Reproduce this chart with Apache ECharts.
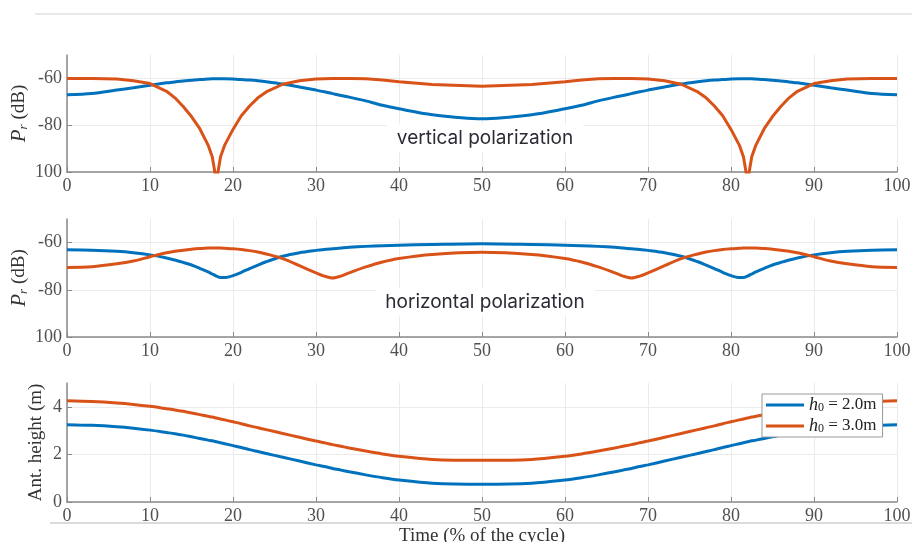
<html>
<head>
<meta charset="UTF-8">
<title>received power</title>
<script src="https://cdn.jsdelivr.net/npm/echarts@6/dist/echarts.min.js"></script>
<style>html,body{margin:0;padding:0;background:#fff}</style>
</head>
<body>
<div id="chart" style="width:912px;height:542px"></div>
<script>
// time (% of the cycle), dense around the nulls
var time = [0,3,6,8,10,12,13,14,15,16,17,17.5,18,18.5,19,20,21,22,23,24,26,28,30,31,32,33,34,36,38,40,44,
  50,
  56,60,62,64,66,67,68,69,70,72,74,76,77,78,79,80,81,81.5,82,82.5,83,84,85,86,87,88,90,92,94,97,100];

// vertical polarization, Pr (dB)
var vertBlue = [-67.0,-66.5,-65.0,-64.0,-62.9,-61.9,-61.5,-61.1,-60.8,-60.5,-60.3,-60.2,-60.2,-60.2,-60.2,-60.3,-60.5,-60.7,-61.0,-61.4,-62.4,-63.7,-65.0,-65.7,-66.5,-67.3,-68.0,-69.6,-71.5,-73.0,-75.5,
  -77.2,
  -75.5,-73.0,-71.5,-69.6,-68.0,-67.3,-66.5,-65.7,-65.0,-63.7,-62.4,-61.4,-61.0,-60.7,-60.5,-60.3,-60.2,-60.2,-60.2,-60.2,-60.3,-60.5,-60.8,-61.1,-61.5,-61.9,-62.9,-64.0,-65.0,-66.5,-67.0];
var vertOrange = [-60.0,-60.0,-60.3,-61.0,-62.2,-65.5,-68.3,-72.0,-76.3,-81.5,-88.5,-93.5,-104,-93.5,-88.5,-81.8,-76.0,-71.8,-68.3,-65.8,-62.5,-61.0,-60.3,-60.1,-60.0,-60.0,-60.0,-60.2,-60.7,-61.4,-62.6,
  -63.4,
  -62.6,-61.4,-60.7,-60.2,-60.0,-60.0,-60.0,-60.1,-60.3,-61.0,-62.5,-65.8,-68.3,-71.8,-76.0,-81.8,-88.5,-93.5,-104,-93.5,-88.5,-81.5,-76.3,-72.0,-68.3,-65.5,-62.2,-61.0,-60.3,-60.0,-60.0];

// horizontal polarization, Pr (dB)
var horBlue = [-63.0,-63.2,-63.7,-64.3,-65.2,-66.5,-67.4,-68.4,-69.5,-70.9,-72.4,-73.3,-74.2,-74.8,-74.8,-74.0,-72.6,-71.0,-69.5,-68.1,-65.8,-64.3,-63.3,-62.9,-62.6,-62.3,-62.0,-61.6,-61.3,-61.1,-60.8,
  -60.5,
  -60.8,-61.1,-61.3,-61.6,-62.0,-62.3,-62.6,-62.9,-63.3,-64.3,-65.8,-68.1,-69.5,-71.0,-72.6,-74.0,-74.8,-74.8,-74.2,-73.3,-72.4,-70.9,-69.5,-68.4,-67.4,-66.5,-65.2,-64.3,-63.7,-63.2,-63.0];
var horOrange = [-70.5,-70.2,-69.0,-67.8,-66.0,-64.3,-63.7,-63.2,-62.8,-62.5,-62.3,-62.3,-62.3,-62.3,-62.4,-62.6,-62.9,-63.4,-64.0,-64.8,-66.8,-69.8,-72.8,-74.2,-75.0,-74.2,-72.8,-70.3,-68.2,-66.7,-65.0,
  -64.1,
  -65.0,-66.7,-68.2,-70.3,-72.8,-74.2,-75.0,-74.2,-72.8,-69.8,-66.8,-64.8,-64.0,-63.4,-62.9,-62.6,-62.4,-62.3,-62.3,-62.3,-62.3,-62.5,-62.8,-63.2,-63.7,-64.3,-66.0,-67.8,-69.0,-70.2,-70.5];

// antenna height (m)
var heightBlue = [3.25,3.22,3.16,3.10,3.02,2.92,2.87,2.81,2.74,2.67,2.60,2.57,2.53,2.49,2.45,2.37,2.29,2.20,2.12,2.04,1.88,1.72,1.56,1.49,1.41,1.34,1.27,1.14,1.02,0.92,0.79,
  0.75,
  0.79,0.92,1.02,1.14,1.27,1.34,1.41,1.49,1.56,1.72,1.88,2.04,2.12,2.20,2.29,2.37,2.45,2.49,2.53,2.57,2.60,2.67,2.74,2.81,2.87,2.92,3.02,3.10,3.16,3.22,3.25];
var heightOrange = [4.25,4.22,4.16,4.10,4.02,3.92,3.87,3.81,3.74,3.67,3.60,3.57,3.53,3.49,3.45,3.37,3.29,3.20,3.12,3.04,2.88,2.72,2.56,2.49,2.41,2.34,2.27,2.14,2.02,1.92,1.79,
  1.75,
  1.79,1.92,2.02,2.14,2.27,2.34,2.41,2.49,2.56,2.72,2.88,3.04,3.12,3.20,3.29,3.37,3.45,3.49,3.53,3.57,3.60,3.67,3.74,3.81,3.87,3.92,4.02,4.10,4.16,4.22,4.25];

var names = ['h0 = 2.0m', 'h0 = 3.0m'];
var blue = '#0072BD', orange = '#D95319';
var serif = '"Liberation Serif", "DejaVu Serif", serif';

function pairs(vals) {
  var out = [];
  for (var i = 0; i < time.length; i++) out.push([time[i], vals[i]]);
  return out;
}

var myChart = echarts.init(document.getElementById('chart'));

function xAxisFor(idx, withName) {
  var ax = {
    type: 'value', gridIndex: idx, min: 0, max: 100, interval: 10,
    axisLine: {show: true, onZero: false, lineStyle: {color: '#8a8a8a', width: 1.5}},
    axisTick: {show: true, inside: true, length: 5, lineStyle: {color: '#8a8a8a'}},
    axisLabel: {fontFamily: serif, fontSize: 18, color: '#505050', margin: 5},
    splitLine: {show: true, lineStyle: {color: '#ebebeb'}}
  };
  if (withName) {
    ax.name = 'Time (% of the cycle)';
    ax.nameLocation = 'middle';
    ax.nameGap = 25;
    ax.nameMoveOverlap = false;
    ax.nameTextStyle = {fontFamily: serif, fontSize: 19, color: '#333'};
  }
  return ax;
}

function yAxisFor(idx, mn, mx, step, name, gap, fmt) {
  return {
    type: 'value', gridIndex: idx, min: mn, max: mx, interval: step,
    name: name, nameLocation: 'middle', nameGap: gap, nameMoveOverlap: false,
    nameTextStyle: {
      fontFamily: serif, fontSize: 19, color: '#333',
      rich: {
        i: {fontFamily: serif, fontStyle: 'italic', fontSize: 21, color: '#333'},
        s: {fontFamily: serif, fontStyle: 'italic', fontSize: 13, color: '#333', padding: [8, 0, 0, 0]},
        t: {fontFamily: serif, fontSize: 19, color: '#333'}
      }
    },
    axisLine: {show: true, lineStyle: {color: '#8a8a8a', width: 1.5}},
    axisTick: {show: true, inside: true, length: 5, lineStyle: {color: '#8a8a8a'}},
    axisLabel: {fontFamily: serif, fontSize: 18, color: '#505050', margin: 5, showMaxLabel: false, formatter: fmt},
    splitLine: {show: true, showMaxLine: false, lineStyle: {color: '#ebebeb'}}
  };
}

// matlab-ish: the -100 label is printed without its sign
var dbFmt = function (v) { return v === -100 ? '100' : String(v); };

function lineSeries(name, color, xi, vals, sm) {
  return {
    name: name, type: 'line', xAxisIndex: xi, yAxisIndex: xi,
    data: pairs(vals), symbol: 'none', showSymbol: false, smooth: sm,
    clip: true, color: color,
    lineStyle: {color: color, width: 3},
    emphasis: {disabled: true}, z: 3
  };
}

var option = {
  animation: false,
  backgroundColor: '#fff',
  grid: [
    {left: 67, right: 15, top: 55, height: 117, outerBoundsMode: 'none'},
    {left: 67, right: 15, top: 219, height: 118, outerBoundsMode: 'none'},
    {left: 67, right: 15, top: 383, height: 119, outerBoundsMode: 'none'}
  ],
  xAxis: [xAxisFor(0, false), xAxisFor(1, false), xAxisFor(2, true)],
  yAxis: [
    yAxisFor(0, -100, -50, 20, '{i|P}{s|r}{t| (dB)}', 37, dbFmt),
    yAxisFor(1, -100, -50, 20, '{i|P}{s|r}{t| (dB)}', 37, dbFmt),
    yAxisFor(2, 0, 5, 2, 'Ant. height (m)', 21, null)
  ],
  legend: {
    orient: 'vertical', left: 762, top: 394,
    data: names,
    icon: 'rect', itemWidth: 38, itemHeight: 3, itemGap: 3,
    backgroundColor: '#fff', borderColor: '#999', borderWidth: 1,
    padding: [2, 6, 2, 4],
    formatter: function (n) { return '{i|h}{s|0}{t| = ' + n.slice(5) + '}'; },
    textStyle: {
      fontFamily: serif, fontSize: 17, color: '#222',
      rich: {
        i: {fontFamily: serif, fontStyle: 'italic', fontSize: 18, color: '#222'},
        s: {fontFamily: serif, fontSize: 12, color: '#222', padding: [6, 0, 0, 0]},
        t: {fontFamily: serif, fontSize: 17, color: '#222'}
      }
    }
  },
  graphic: [
    {type: 'line', z: 1, shape: {x1: 35, y1: 14, x2: 912, y2: 14}, style: {stroke: '#e2e2e2', lineWidth: 1.5}},
    {type: 'line', z: 1, shape: {x1: 50, y1: 523, x2: 912, y2: 523}, style: {stroke: '#cfcfcf', lineWidth: 1.5}},
    {type: 'text', z: 1, x: 485, y: 138,
      style: {text: 'vertical polarization', font: '19px Inter, "Noto Sans", sans-serif', fill: '#2b2b36',
        align: 'center', verticalAlign: 'middle', backgroundColor: '#fff', padding: [4, 10, 4, 10]}},
    {type: 'text', z: 1, x: 485, y: 302,
      style: {text: 'horizontal polarization', font: '19px Inter, "Noto Sans", sans-serif', fill: '#2b2b36',
        align: 'center', verticalAlign: 'middle', backgroundColor: '#fff', padding: [4, 10, 4, 10]}}
  ],
  series: [
    lineSeries(names[0], blue, 0, vertBlue, 0.3),
    lineSeries(names[1], orange, 0, vertOrange, false),
    lineSeries(names[0], blue, 1, horBlue, 0.3),
    lineSeries(names[1], orange, 1, horOrange, 0.3),
    lineSeries(names[0], blue, 2, heightBlue, 0.3),
    lineSeries(names[1], orange, 2, heightOrange, 0.3)
  ]
};

myChart.setOption(option, true);
</script>
</body>
</html>
